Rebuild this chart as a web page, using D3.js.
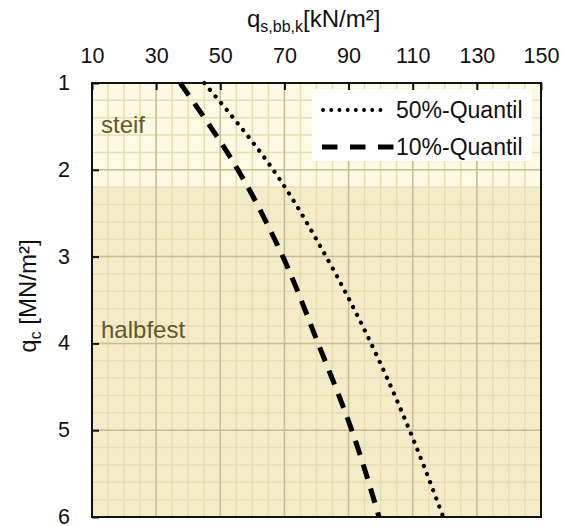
<!DOCTYPE html>
<html>
<head>
<meta charset="utf-8">
<script src="https://cdn.jsdelivr.net/npm/d3@7"></script>
<style>
  body { margin: 0; background: #fff; }
  svg { font-family: Arial, "Liberation Sans", sans-serif; }
</style>
</head>
<body>
<svg id="chart"></svg>
<script>
// chart data
var qcLevels = [1, 2, 3, 4, 5, 6];
var q50 = [45, 66.5, 83, 97, 109, 119.5];
var q10 = [37.5, 55.5, 69.5, 80.5, 91, 99.5];

var xTicks = [10, 30, 50, 70, 90, 110, 130, 150];
var yTicks = [1, 2, 3, 4, 5, 6];

var zoneNames = ["steif", "halbfest"];
var zoneBounds = [1, 2.2, 6];
var zoneLabelY = [1.58, 3.94];

var legendLabels = ["50%-Quantil", "10%-Quantil"];

var svgW = 563;
var svgH = 526;

// plot frame (careful: "top" is a reserved window property)
var pLeft = 92, pRight = 541, pTop = 83, pBottom = 517;

var svg = d3.select("#chart")
  .attr("width", svgW)
  .attr("height", svgH);

var x = d3.scaleLinear().domain([10, 150]).range([pLeft, pRight]);
var y = d3.scaleLinear().domain([1, 6]).range([pTop, pBottom]);

// background zones
var zoneColors = ["#fdf9e4", "#f4ebc9"];
svg.append("g").selectAll("rect")
  .data(zoneNames)
  .enter()
  .append("rect")
    .attr("x", pLeft)
    .attr("width", pRight - pLeft)
    .attr("y", function(d, i){ return y(zoneBounds[i]); })
    .attr("height", function(d, i){ return y(zoneBounds[i + 1]) - y(zoneBounds[i]); })
    .attr("fill", function(d, i){ return zoneColors[i]; });

// grid, minor then major
var minorX = d3.range(10, 150.01, 5);
var minorY = d3.range(1, 6.01, 0.2);

var grid = svg.append("g");
grid.selectAll(".mx").data(minorX).enter().append("line")
  .attr("x1", function(d){ return x(d); }).attr("x2", function(d){ return x(d); })
  .attr("y1", pTop).attr("y2", pBottom)
  .attr("stroke", "#e9ddb2").attr("stroke-width", 1.5);
grid.selectAll(".my").data(minorY).enter().append("line")
  .attr("y1", function(d){ return y(d); }).attr("y2", function(d){ return y(d); })
  .attr("x1", pLeft).attr("x2", pRight)
  .attr("stroke", "#e9ddb2").attr("stroke-width", 1.5);
grid.selectAll(".Mx").data(xTicks).enter().append("line")
  .attr("x1", function(d){ return x(d); }).attr("x2", function(d){ return x(d); })
  .attr("y1", pTop).attr("y2", pBottom)
  .attr("stroke", "#c9bd95").attr("stroke-width", 1.5);
grid.selectAll(".My").data(yTicks).enter().append("line")
  .attr("y1", function(d){ return y(d); }).attr("y2", function(d){ return y(d); })
  .attr("x1", pLeft).attr("x2", pRight)
  .attr("stroke", "#c9bd95").attr("stroke-width", 1.5);

// zone labels
svg.append("g").selectAll("text")
  .data(zoneNames)
  .enter()
  .append("text")
    .attr("x", 101)
    .attr("y", function(d, i){ return y(zoneLabelY[i]); })
    .attr("font-size", 24)
    .attr("fill", "#5f5a2b")
    .text(function(d){ return d; });

// legend box
var legend = svg.append("g");
legend.append("rect")
  .attr("x", 312).attr("y", 89)
  .attr("width", 220).attr("height", 72)
  .attr("fill", "#fff");

// lines
var line = d3.line()
  .curve(d3.curveMonotoneY)
  .x(function(d){ return x(d[0]); })
  .y(function(d){ return y(d[1]); });

svg.append("path")
  .datum(qcLevels.map(function(q, i){ return [q50[i], q]; }))
  .attr("d", line)
  .attr("fill", "none")
  .attr("stroke", "#000")
  .attr("stroke-width", 4.2)
  .attr("stroke-linecap", "round")
  .attr("stroke-dasharray", "0.1,8.6");

svg.append("path")
  .datum(qcLevels.map(function(q, i){ return [q10[i], q]; }))
  .attr("d", line)
  .attr("fill", "none")
  .attr("stroke", "#000")
  .attr("stroke-width", 5)
  .attr("stroke-dasharray", "15,10");

// legend entries
legend.append("line")
  .attr("x1", 323).attr("x2", 388).attr("y1", 110).attr("y2", 110)
  .attr("stroke", "#000").attr("stroke-width", 3.8)
  .attr("stroke-linecap", "round").attr("stroke-dasharray", "0.1,8.1");
legend.append("line")
  .attr("x1", 322).attr("x2", 394).attr("y1", 147).attr("y2", 147)
  .attr("stroke", "#000").attr("stroke-width", 5)
  .attr("stroke-dasharray", "15.5,12.5");
legend.selectAll("text")
  .data(legendLabels)
  .enter()
  .append("text")
    .attr("x", 396)
    .attr("y", function(d, i){ return 118 + i * 37; })
    .attr("font-size", 23)
    .attr("fill", "#111")
    .text(function(d){ return d; });

// frame
svg.append("rect")
  .attr("x", pLeft).attr("y", pTop)
  .attr("width", pRight - pLeft).attr("height", pBottom - pTop)
  .attr("fill", "none").attr("stroke", "#111").attr("stroke-width", 2);

// axes
var xAxis = d3.axisTop(x).tickValues(xTicks).tickSizeInner(-7).tickSizeOuter(0).tickPadding(20);
var yAxis = d3.axisLeft(y).tickValues(yTicks).tickFormat(d3.format("d"))
  .tickSizeInner(-7).tickSizeOuter(0).tickPadding(22);

var gx = svg.append("g").attr("transform", "translate(0," + pTop + ")").call(xAxis);
var gy = svg.append("g").attr("transform", "translate(" + pLeft + ",0)").call(yAxis);

[gx, gy].forEach(function(g){
  g.select(".domain").remove();
  g.selectAll(".tick line").attr("stroke", "#111").attr("stroke-width", 2);
  g.selectAll(".tick text")
    .attr("font-size", 21.5)
    .attr("font-family", "Arial, 'Liberation Sans', sans-serif")
    .attr("fill", "#111");
});
gy.selectAll(".tick text").attr("dy", "0.3em");

// axis titles
var xt = svg.append("text")
  .attr("x", 247).attr("y", 27)
  .attr("font-size", 24)
  .attr("fill", "#111");
xt.append("tspan").text("q");
xt.append("tspan").attr("font-size", 16).attr("dy", 5).text("s,bb,k");
xt.append("tspan").attr("dy", -5).text("[kN/m²]");

var yt = svg.append("text")
  .attr("transform", "translate(36,296) rotate(-90)")
  .attr("text-anchor", "middle")
  .attr("font-size", 24)
  .attr("fill", "#111");
yt.append("tspan").text("q");
yt.append("tspan").attr("font-size", 16).attr("dy", 5).text("c");
yt.append("tspan").attr("dy", -5).text(" [MN/m²]");
</script>
</body>
</html>
